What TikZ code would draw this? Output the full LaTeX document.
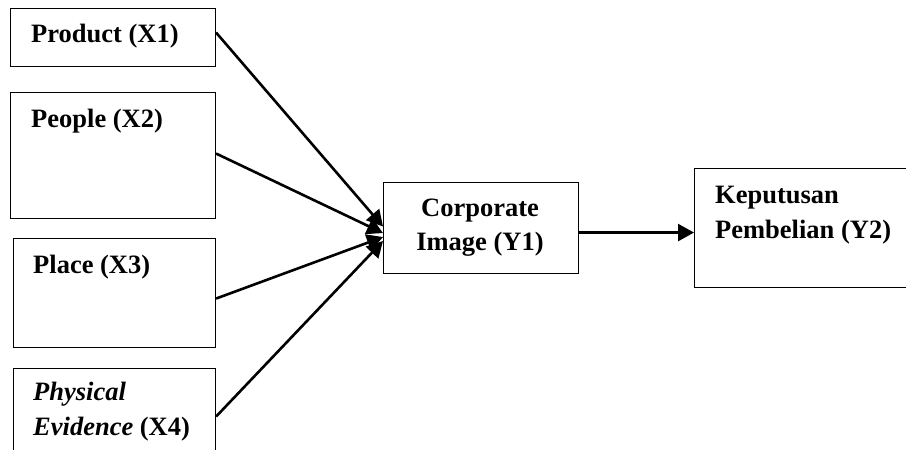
\documentclass[tikz,border=0pt]{standalone}
\usepackage{fontspec}
\setmainfont{Liberation Serif}
\usetikzlibrary{arrows.meta}
\begin{document}
\begin{tikzpicture}[x=1pt,y=-1pt,
  box/.style={draw, line width=1.1pt, inner sep=0pt, anchor=north west},
  txt/.style={inner sep=0pt, font=\fontsize{26.5}{35}\selectfont\bfseries},
  conn/.style={line width=2.6pt, -{Triangle[length=16pt,width=17pt]}}]
  \useasboundingbox (0,0) rectangle (906,450);
  \clip (0,0) rectangle (906,450);

  % exogenous variables
  \node[box, minimum width=205pt, minimum height=58pt]  (x1) at (10,8)   {};
  \node[box, minimum width=205pt, minimum height=126pt] (x2) at (10,92)  {};
  \node[box, minimum width=202pt, minimum height=109pt] (x3) at (13,238) {};
  \node[box, minimum width=202pt, minimum height=92pt]  (x4) at (13,368) {};

  % intervening and dependent variables
  \node[box, minimum width=195pt, minimum height=91pt]  (y1) at (383,182) {};
  \node[box, minimum width=230pt, minimum height=119pt] (y2) at (694,168) {};

  % labels
  \node[txt, anchor=base west] (t1)  at (31,42)  {Product (X1)};
  \node[txt, anchor=base west] (t2)  at (31,127) {People (X2)};
  \node[txt, anchor=base west] (t3)  at (33,273) {Place (X3)};
  \node[txt, anchor=base west] (t4a) at (33,400) {\itshape Physical};
  \node[txt, anchor=base west] (t4b) at (33,435) {\textit{Evidence} (X4)};
  \node[txt, anchor=base]      (t5a) at (480,216) {Corporate};
  \node[txt, anchor=base]      (t5b) at (480,250) {Image (Y1)};
  \node[txt, anchor=base west] (t6a) at (715,203) {Keputusan};
  \node[txt, anchor=base west] (t6b) at (715,238) {Pembelian (Y2)};

  % paths
  \draw[conn] ([yshift=5pt]x1.east)    -- ([yshift=1.5pt]y1.west);
  \draw[conn] ([yshift=2pt]x2.east)    -- ([yshift=-5pt]y1.west);
  \draw[conn] ([yshift=-5.5pt]x3.east) -- ([yshift=-9pt]y1.west);
  \draw[conn] ([yshift=-2pt]x4.east)   -- ([yshift=-13pt]y1.west);
  \draw[conn] ([yshift=-4.5pt]y1.east) -- ([yshift=-4.5pt]y2.west);
\end{tikzpicture}
\end{document}
